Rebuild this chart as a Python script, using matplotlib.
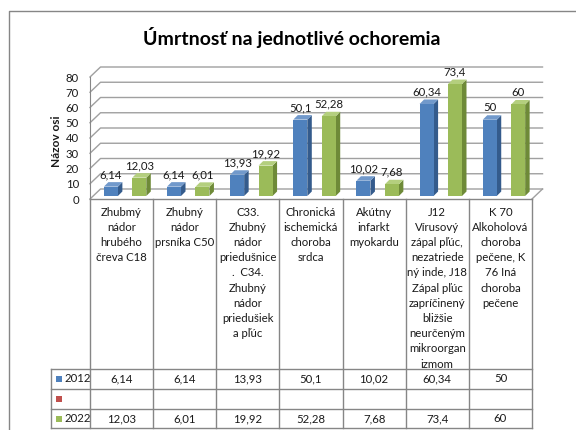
import matplotlib.pyplot as plt
from matplotlib.patches import Polygon, Rectangle
from matplotlib.lines import Line2D

categories = [
    "Zhubmý\nnádor\nhrubého\nčreva C18",
    "Zhubný\nnádor\nprsníka C50",
    "C33.\nZhubný\nnádor\npriedušnice\n.  C34.\nZhubný\nnádor\npriedušiek\na pľúc",
    "Chronická\nischemická\nchoroba\nsrdca",
    "Akútny\ninfarkt\nmyokardu",
    "J12\nVírusový\nzápal pľúc,\nnezatriede\nný inde, J18\nZápal pľúc\nzapríčinený\nbližšie\nneurčeným\nmikroorgan\nizmom",
    "K 70\nAlkoholová\nchoroba\npečene, K\n76 Iná\nchoroba\npečene",
]
values_2012 = [6.14, 6.14, 13.93, 50.1, 10.02, 60.34, 50]
values_2022 = [12.03, 6.01, 19.92, 52.28, 7.68, 73.4, 60]
series_names = ["2012", "", "2022"]
yticks = [0, 10, 20, 30, 40, 50, 60, 70, 80]

blue, blue_side, blue_top = "#4F81BD", "#345B8C", "#7199CB"
red = "#C0504D"
green, green_side, green_top = "#9BBB59", "#6E8A38", "#B4CF7E"
line_col = "#868686"
grid_col = "#A0A0A0"
txt_col = "#1a1a1a"
fs = 8.2

plt.rcParams['font.family'] = ['Lato', 'DejaVu Sans']

W, H = 576, 430
fig = plt.figure(figsize=(W / 100, H / 100), dpi=100)


def fx(px):
    return px / W


def fy(py):
    return 1 - py / H


# outer chart frame (right/bottom edges fall outside the picture)
fig.add_artist(Line2D([fx(9), fx(9), fx(W)], [fy(H), fy(11), fy(11)],
                      color=line_col, lw=1))

fig.text(fx(292), fy(38), "Úmrtnosť na jednotlivé ochoremia",
         ha="center", va="center", fontsize=14, fontweight="bold", color="black")
fig.text(fx(56.5), fy(141.5), "Názov osi", rotation=90, ha="center", va="center",
         fontsize=8.6, fontweight="bold", color=txt_col)

# plot area = front plane of the 3D box
left, right, top, bottom = 90, 532, 77, 199
ax = fig.add_axes([fx(left), fy(bottom), (right - left) / W, (bottom - top) / H])
n = len(categories)
ax.set_xlim(-0.5, n - 0.5)
ax.set_ylim(0, 80)
ax.patch.set_visible(False)
for s in ["top", "right", "bottom"]:
    ax.spines[s].set_visible(False)
ax.spines["left"].set_color(line_col)
ax.set_xticks([])
ax.set_yticks(yticks)
ax.tick_params(axis="y", length=0, pad=8, labelsize=fs, labelcolor=txt_col)

ux = (right - left) / n          # pixels per category
uy = (bottom - top) / 80         # pixels per value unit


def dx(px):
    return px / ux


def dy(px):
    return px / uy


# walls: gridlines run along the left wall diagonal and across the back wall
depth_x, depth_y = dx(10.5), dy(10)
x_lo, x_hi = -0.5, n - 0.5
for v in yticks:
    ax.plot([x_lo, x_lo + depth_x, x_hi + depth_x], [v, v + depth_y, v + depth_y],
            color=grid_col, lw=1, clip_on=False, zorder=1)
ax.plot([x_hi, x_hi + depth_x], [0, depth_y], color=grid_col, lw=1, clip_on=False, zorder=1)

# 3D columns
bar_w = 0.222
shift_x, shift_y = dx(3.5), dy(3)
side_x, side_y = dx(4.5), dy(4.5)
series = [(values_2012, -0.225, blue, blue_side, blue_top),
          (values_2022, 0.225, green, green_side, green_top)]


def fmt(v):
    return f"{v:g}".replace(".", ",")


for vals, off, c_front, c_side, c_top in series:
    for i, v in enumerate(vals):
        x0 = i + off - bar_w / 2 + shift_x
        x1 = x0 + bar_w
        y0 = shift_y
        y1 = shift_y + v
        ax.add_patch(Polygon([(x1, y0), (x1 + side_x, y0 + side_y),
                              (x1 + side_x, y1 + side_y), (x1, y1)],
                             closed=True, fc=c_side, ec="none", clip_on=False, zorder=3))
        ax.add_patch(Polygon([(x0, y1), (x1, y1), (x1 + side_x, y1 + side_y),
                              (x0 + side_x, y1 + side_y)],
                             closed=True, fc=c_top, ec="none", clip_on=False, zorder=3))
        ax.add_patch(Rectangle((x0, y0), bar_w, v, fc=c_front, ec="none",
                               clip_on=False, zorder=4))
        ax.text((x0 + x1) / 2, y1 + dy(12), fmt(v), ha="center", va="center",
                fontsize=fs, color=txt_col, zorder=5)

# data table
t_left, t_bottom = 51, 428
head_w = left - t_left
tax = fig.add_axes([fx(t_left), fy(t_bottom), (right - t_left) / W, (t_bottom - bottom) / H])
tax.set_xlim(-0.5 - head_w / ux, n - 0.5)
tax.set_ylim(t_bottom - bottom, 0)
tax.axis("off")
xl = -0.5 - head_w / ux
cat_h = 170
row_h = [20, 20, 19]
row_edges = [cat_h]
for h in row_h:
    row_edges.append(row_edges[-1] + h)

tax.plot([x_lo, x_hi], [0, 0], color=line_col, lw=1, clip_on=False)
for yb in row_edges:
    tax.plot([xl, x_hi], [yb, yb], color=line_col, lw=1, clip_on=False)
for k in range(n + 1):
    tax.plot([x_lo + k, x_lo + k], [0, row_edges[-1]], color=line_col, lw=1, clip_on=False)
tax.plot([xl, xl], [cat_h, row_edges[-1]], color=line_col, lw=1, clip_on=False)

for i, lab in enumerate(categories):
    for j, line in enumerate(lab.split("\n")):
        tax.text(i, 13 + j * 15.2, line, ha="center", va="center",
                 fontsize=fs, color=txt_col)

row_vals = [values_2012, None, values_2022]
row_cols = [blue, red, green]
for r, (name, vals, col) in enumerate(zip(series_names, row_vals, row_cols)):
    yc = (row_edges[r] + row_edges[r + 1]) / 2
    tax.add_patch(Rectangle((xl + dx(5), yc - 3), dx(6), 6, fc=col, ec="none"))
    if name:
        tax.text(xl + dx(13), yc, name, ha="left", va="center", fontsize=fs, color=txt_col)
    if vals is not None:
        for i, v in enumerate(vals):
            tax.text(i, yc, fmt(v), ha="center", va="center", fontsize=fs, color=txt_col)

fig.savefig("out.png", dpi=100, facecolor="white")
